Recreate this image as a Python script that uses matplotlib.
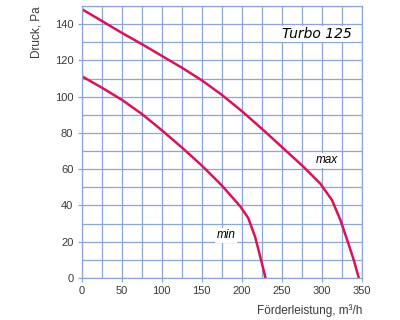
import numpy as np
import matplotlib.pyplot as plt

# Kennlinien Turbo 125
q_max = [0, 25, 50, 75, 100, 125, 150, 175, 200, 227, 252, 277, 298,
         312.5, 323, 333, 340, 346]
p_max = [148.3, 141.8, 135.2, 129, 122.5, 116, 109, 101, 92, 81.5, 71.4, 61.3, 52,
         43, 32, 19, 9.5, 0]

q_min = [0, 25, 50, 75, 100, 125, 150, 175, 198, 208, 216.6, 223, 226.5, 229.5]
p_min = [111.3, 105, 98.3, 90.5, 81.5, 72, 62, 51, 39.5, 33, 22.6, 11.6, 5.5, 0]

x_ticks = [0, 50, 100, 150, 200, 250, 300, 350]
y_ticks = [0, 20, 40, 60, 80, 100, 120, 140]

blau = '#8ea6d6'
rot = '#dc1258'
grau = '#3a3a3a'

plt.rcParams['font.family'] = ['Liberation Sans', 'DejaVu Sans']

fig = plt.figure(figsize=(4, 3.2), dpi=100)
ax = fig.add_axes([81.7 / 400, 1 - 278 / 320, (362 - 81.7) / 400, (278 - 6) / 320])

ax.plot(q_max, p_max, color=rot, lw=1.8, solid_joinstyle='round')
ax.plot(q_min, p_min, color=rot, lw=1.8, solid_joinstyle='round')

ax.set_xlim(0, 350)
ax.set_ylim(0, 150)
ax.set_xticks(x_ticks)
ax.set_yticks(y_ticks)
ax.set_xticks(np.arange(0, 351, 25), minor=True)
ax.set_yticks(np.arange(0, 151, 10), minor=True)
ax.grid(True, which='both', color=blau, lw=0.9)
ax.set_axisbelow(True)
for s in ax.spines.values():
    s.set_color(blau)
    s.set_linewidth(0.9)
ax.tick_params(which='major', length=3, color=blau, width=0.9, labelsize=8,
               labelcolor=grau, pad=3)
ax.tick_params(which='minor', length=0)

ax.set_ylabel('Druck, Pa', fontsize=8.5, color=grau, loc='top', labelpad=9)
ax.set_xlabel('Förderleistung, m³/h', fontsize=8.5, color=grau, loc='right',
              labelpad=6)

box = dict(facecolor='white', edgecolor='none', pad=1)
ax.text(294, 134.5, 'Turbo 125', style='italic', fontsize=10, ha='center',
        va='center', bbox=box, family=['DejaVu Sans'])
ax.text(306.6, 65, 'max', style='italic', fontsize=8.5, ha='center', va='center', bbox=box)
ax.text(180.4, 23.6, 'min', style='italic', fontsize=8.5, ha='center', va='center', bbox=box)

fig.savefig('out.png', dpi=100)
